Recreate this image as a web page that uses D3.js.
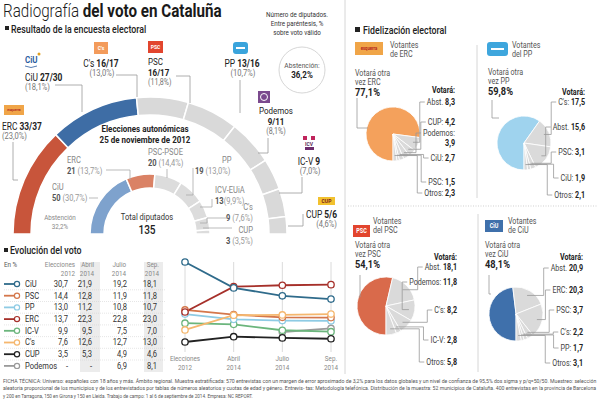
<!DOCTYPE html>
<html><head><meta charset="utf-8">
<script src="https://cdn.jsdelivr.net/npm/d3@7"></script>
<style>
body{margin:0;background:#fff}
svg{display:block}
text{font-family:'Roboto','Liberation Sans','Noto Sans',sans-serif}
</style>
</head><body>
<svg id="c" width="600" height="401"></svg>
<script>
// ---------- DATA ----------
const seatParties = ["ERC","CiU","C's","PSC","PP","Podemos","IC-V","CUP"];
const seatLow  = [33,27,16,16,13,9,9,5];
const seatHigh = [37,30,17,17,16,11,9,6];
const votePct  = ["23,0%","18,1%","13,0%","11,8%","10,7%","8,1%","7,0%","4,6%"];
const abstencion2014 = "36,2%";

const parties2012 = ["CiU","ERC","PSC-PSOE","PP","ICV-EUiA","C's","CUP"];
const seats2012   = [50,21,20,19,13,9,3];
const pct2012     = ["30,7%","13,7%","14,4%","13,0%","9,9%","7,6%","3,5%"];
const abstencion2012 = "32,2%";
const totalSeats = 135;

const evoPeriods = [["Elecciones","2012"],["Abril","2014"],["Julio","2014"],["Sep.","2014"]];
const evoParties = ["CiU","PSC","PP","ERC","IC-V","C's","CUP","Podemos"];
const evoCiU     = [30.7,21.9,19.2,18.1];
const evoPSC     = [14.4,12.8,11.9,11.8];
const evoPP      = [13.0,11.2,10.8,10.7];
const evoERC     = [13.7,22.3,22.8,23.0];
const evoICV     = [9.9,9.5,7.5,7.0];
const evoCs      = [7.6,12.6,12.7,13.0];
const evoCUP     = [3.5,5.3,4.9,4.6];
const evoPodemos = [null,null,6.9,8.1];

const fidERCLabels = ["Abst.","CUP:","Podemos:","CiU:","PSC:","Otros:"];
const fidERCValues = [8.3,4.2,3.9,2.7,1.5,2.3];
const fidERCKeep = 77.1;
const fidPPLabels = ["C's:","Abst.","PSC:","CiU:","Otros:"];
const fidPPValues = [17.5,15.6,3.1,1.9,2.1];
const fidPPKeep = 59.8;
const fidPSCLabels = ["Abst.","Podemos:","C's:","IC-V:","Otros:"];
const fidPSCValues = [18.1,11.8,8.2,2.8,5.8];
const fidPSCKeep = 54.1;
const fidCiULabels = ["Abst.","ERC:","PSC:","C's:","PP:","Otros:"];
const fidCiUValues = [20.9,20.3,3.7,2.2,1.7,3.1];
const fidCiUKeep = 48.1;

const footer = [
 "FICHA TÉCNICA: Universo: españoles con 18 años y más. Ámbito regional. Muestra estratificada: 570 entrevistas con un margen de error aproximado de 3,2% para los datos globales y un nivel de confianza de 95,5% dos sigma y p/q=50/50. Muestreo: selección",
 "aleatoria proporcional de los municipios y de los entrevistados por tablas de números aleatorios y cuotas de edad y género. Entrevis- tas: Metodología telefónica. Distribución de la muestra: 52 municipios de Cataluña. 400 entrevistas en la provincia de Barcelona",
 "y 200 en Tarragona, 150 en Girona y 150 en Lleida. Trabajo de campo: 1 al 6 de septiembre de 2014. Empresa: NC REPORT."
];

// ---------- HELPERS ----------
const SX = 0.84; // horizontal condensing of all text
const svg = d3.select("#c");
svg.append("rect").attr("width",600).attr("height",401).attr("fill","#fff");
const fmt = v => d3.format(".1f")(v).replace(".",",");
function txt(x,y,parts,o={}){
  const sx = o.sx||SX;
  const t = svg.append("text").attr("x",x/sx).attr("y",y)
    .attr("transform",`scale(${sx},1)`)
    .attr("font-size",o.size||9).attr("text-anchor",o.anchor||"start")
    .attr("fill",o.fill||"#222");
  if(typeof parts==="string") parts=[[parts]];
  parts.forEach(p=>{const s=t.append("tspan").text(p[0]);
    if(p[1]) s.attr("font-weight",p[1]); if(p[2]) s.attr("fill",p[2]);});
  t.sx = sx;
  return t;
}
function lead(pts,col="#999"){
  svg.append("path").attr("d",d3.line()(pts)).attr("fill","none")
    .attr("stroke",col).attr("stroke-width",0.8);
}

// ---------- TITLE ----------
txt(3,17,[["Radiografía ","300"],["del voto en Cataluña","bold"]],{size:19,fill:"#1a1a1a",sx:0.8});
svg.append("rect").attr("x",5).attr("y",26).attr("width",4).attr("height",4).attr("fill","#222");
txt(11,33,[["Resultado de la encuesta electoral","500"]],{size:10.5});
["Número de diputados.","Entre paréntesis, %","sobre voto válido"].forEach((s,i)=>
  txt(297,17+i*9,s,{size:7.5,anchor:"middle",fill:"#333"}));

// dividers
svg.append("line").attr("x1",345).attr("x2",345).attr("y1",0).attr("y2",374).attr("stroke","#ccc").attr("stroke-width",0.8);

// ---------- OUTER ARC (encuesta) ----------
const cx=150, cy=234;
const outerVals = seatLow.map((l,i)=>(l+seatHigh[i])/2);
const outerCol = ["#c8553b","#3e6da5","#d9d9d9","#d9d9d9","#d9d9d9","#d9d9d9","#d9d9d9","#d9d9d9"];
const gA = svg.append("g").attr("transform",`translate(${cx},${cy})`);
gA.selectAll("path.o").data(d3.pie().sort(null).startAngle(-Math.PI/2).endAngle(Math.PI/2)(outerVals))
  .join("path").attr("class","o").attr("d",d3.arc().innerRadius(119).outerRadius(137))
  .attr("fill",(d,i)=>outerCol[i]).attr("stroke","#fff").attr("stroke-width",1.5);

const innerCol = ["#7ea2cd","#da8265","#dcdcdc","#dcdcdc","#dcdcdc","#dcdcdc","#dcdcdc"];
gA.selectAll("path.i").data(d3.pie().sort(null).startAngle(-Math.PI/2).endAngle(Math.PI/2)(seats2012))
  .join("path").attr("class","i").attr("d",d3.arc().innerRadius(46).outerRadius(60))
  .attr("fill",(d,i)=>innerCol[i]).attr("stroke","#fff").attr("stroke-width",1.5);

// outer labels layout
const seatStr = i => seatLow[i]===seatHigh[i] ? `${seatLow[i]}` : `${seatLow[i]}/${seatHigh[i]}`;
const outerLay = {
 "ERC":{x:2,y:130,a:"start",two:false,lead:[[13,142],[13,180],[18,180]]},
 "CiU":{x:25,y:81,a:"start",two:false,lead:[[55,85],[82,85],[82,112]]},
 "C's":{x:101,y:67,a:"middle",two:false,lead:[[116,75],[137,75],[137,97]]},
 "PSC":{x:148,y:65,a:"start",two:true,lead:[[176,76],[190,76],[190,103]]},
 "PP":{x:242,y:67,a:"middle",two:false,lead:[[240,80],[240,113]]},
 "Podemos":{x:276,y:114,a:"middle",two:true,lead:[[268,138],[268,153],[258,153]]},
 "IC-V":{x:309,y:165,a:"middle",two:false,lead:[[302,177],[302,193],[279,193]]},
 "CUP":{x:337,y:218,a:"end",two:false,lead:[[303,214],[303,226],[288,226]]}
};
seatParties.forEach((p,i)=>{
  const L=outerLay[p];
  if(L.two){
    txt(L.x,L.y,[[p,"normal"]],{size:9.5,anchor:L.a});
    txt(L.x,L.y+11,[[seatStr(i),"bold"]],{size:9.5,anchor:L.a});
    txt(L.x,L.y+20.5,`(${votePct[i]})`,{size:8.5,anchor:L.a,fill:"#777"});
  } else {
    txt(L.x,L.y,[[p+" ","normal"],[seatStr(i),"bold"]],{size:10,anchor:L.a});
    txt(L.x+(L.a==="middle"?1:0),L.y+9.5,`(${votePct[i]})`,{size:9,anchor:L.a,fill:"#777"});
  }
  lead(L.lead);
});
// Abstención circle
svg.append("circle").attr("cx",302).attr("cy",70).attr("r",23).attr("fill","none").attr("stroke","#ccc").attr("stroke-width",0.8);
txt(302,68,"Abstención:",{size:8,anchor:"middle",fill:"#555"});
txt(302,78,[[abstencion2014,"bold"]],{size:9.5,anchor:"middle"});

// logos
function logo(x,y,w,h,fill,label,lc,fs,rx){
  svg.append("rect").attr("x",x).attr("y",y).attr("width",w).attr("height",h).attr("fill",fill).attr("rx",rx||0);
  if(label) txt(x+w/2,y+h/2+fs*0.35,[[label,"bold"]],{size:fs,anchor:"middle",fill:lc});
}
txt(25,63,[["CiU","bold"]],{size:9.5,fill:"#2b5c9e"});
svg.append("path").attr("d","M25,66 Q31,69 37,66").attr("fill","none").attr("stroke","#2b5c9e").attr("stroke-width",0.8);
svg.append("circle").attr("cx",39).attr("cy",54).attr("r",1.5).attr("fill","#e0a020");
logo(94,42,14,12,"#f39b5b","C's","#fff",6);
logo(148,41,15,12,"#e2452e","PSC","#fff",6);
logo(233,42,15,12,"#3aa4dc","","#fff",6,3);
svg.append("path").attr("d","M236,48 L245,48").attr("stroke","#fff").attr("stroke-width",2);
logo(258,91,12,12,"#7b4a8e","","#fff",6);
svg.append("circle").attr("cx",264).attr("cy",97).attr("r",3.5).attr("fill","none").attr("stroke","#fff").attr("stroke-width",1);
svg.append("rect").attr("x",303).attr("y",136).attr("width",4).attr("height",4).attr("fill","#c0245c");
svg.append("rect").attr("x",311).attr("y",136).attr("width",4).attr("height",4).attr("fill","#c0245c");
txt(309,146,[["ICV","bold"]],{size:6,anchor:"middle",fill:"#5a2a5a"});
svg.append("rect").attr("x",305).attr("y",147).attr("width",9).attr("height",3).attr("fill","#6d2d6d");
logo(318,197,17,8,"#f2c12e","CUP","#7a1a1a",6);
logo(4,105,20,10,"#f0a548","esquerra","#b3261e",4);

// inner labels
txt(145,132,[["Elecciones autonómicas","bold"]],{size:9.5,anchor:"middle"});
txt(145,143,[["25 de noviembre de 2012","bold"]],{size:9.5,anchor:"middle"});
txt(147,220,"Total diputados",{size:9,anchor:"middle",fill:"#333"});
txt(147,234,[[String(totalSeats),"500"]],{size:12,anchor:"middle",fill:"#222"});
txt(60,220,"Abstención",{size:7.5,anchor:"middle",fill:"#888"});
txt(60,229,abstencion2012,{size:7.5,anchor:"middle",fill:"#888"});
const innerLay = [
 {x:52,y:190,a:"start",lead:[[89,198],[98,198]]},
 {x:67,y:163,a:"start",lead:[[106,170],[130,170],[130,180]]},
 {x:148,y:155,a:"start",lead:[[167,169],[167,178]]},
 {x:222,y:163,a:"start",x2:195,lead:[[193,168],[193,195],[186,195]]},
 {x:215,y:193,a:"start",lead:[[212,199],[212,207],[200,207]],tight:true},
 {x:253,y:210,a:"end",lead:[[228,218],[207,218],[207,223],[200,223]]},
 {x:253,y:233,a:"end",lead:[[232,228],[203,228]]}
];
parties2012.forEach((p,i)=>{
  const L=innerLay[i];
  txt(L.x,L.y,p,{size:9,anchor:L.a,fill:"#888"});
  txt(L.x2||L.x,L.y+11,[[String(seats2012[i]),"bold","#555"],[(L.tight?"":" ")+"("+pct2012[i]+")","normal","#999"]],{size:9,anchor:L.a});
  lead(L.lead,"#aaa");
});

// ---------- EVOLUCIÓN ----------
svg.append("rect").attr("x",4).attr("y",248).attr("width",4).attr("height",4).attr("fill","#222");
txt(10,254,[["Evolución del voto","500"]],{size:10.5});
txt(4,267,"En %",{size:7.5,fill:"#555"});
const evoSeries = [evoCiU,evoPSC,evoPP,evoERC,evoICV,evoCs,evoCUP,evoPodemos];
const evoColors = ["#2f6b8b","#d4774b","#8ecbe4","#a6302a","#6bb57c","#f5b76e","#222222","#9a9a9a"];
const hdrR = [75,94,126,159];
const valR = [68,92,127,157];
svg.append("rect").attr("x",80).attr("y",262).attr("width",20).attr("height",110).attr("fill","#ececec");
svg.append("rect").attr("x",144).attr("y",262).attr("width",19).attr("height",110).attr("fill","#ececec");
evoPeriods.forEach((p,j)=>{
  txt(hdrR[j],267,p[0],{size:7.5,anchor:"end",fill:"#888"});
  txt(hdrR[j],276,p[1],{size:7.5,anchor:"end",fill:"#888"});
});
const rowY = i => 287 + i*11.7;
evoParties.forEach((p,i)=>{
  const y=rowY(i);
  svg.append("line").attr("x1",4).attr("x2",14).attr("y1",y-3).attr("y2",y-3).attr("stroke",evoColors[i]).attr("stroke-width",1.8);
  svg.append("circle").attr("cx",17).attr("cy",y-3).attr("r",2.6).attr("fill","#fff").attr("stroke",evoColors[i]).attr("stroke-width",1.2);
  txt(25,y,p,{size:9,fill:"#333"});
  evoSeries[i].forEach((v,j)=>txt(valR[j],y,v==null?"-":fmt(v),{size:9,anchor:"end",fill:"#333"}));
  if(i<evoParties.length-1) svg.append("line").attr("x1",4).attr("x2",165).attr("y1",y+2.8).attr("y2",y+2.8).attr("stroke","#ccc").attr("stroke-width",0.5).attr("stroke-dasharray","1,1");
});
// line chart
const xs = d3.scalePoint().domain(d3.range(4)).range([185,331]);
const ys = d3.scaleLinear().domain([3.5,30.7]).range([342,262]);
xs.domain().forEach(j=>{
  svg.append("line").attr("x1",xs(j)).attr("x2",xs(j)).attr("y1",262).attr("y2",352).attr("stroke","#d0d0d0").attr("stroke-width",0.8);
  txt(xs(j),361,evoPeriods[j][0],{size:7.5,anchor:"middle",fill:"#888"});
  txt(xs(j),370,evoPeriods[j][1],{size:7.5,anchor:"middle",fill:"#888"});
});
const ln = d3.line().defined(d=>d.v!=null).x(d=>xs(d.j)).y(d=>ys(d.v));
const order=[7,4,2,1,5,6,3,0];
order.forEach(i=>{
  const pts = evoSeries[i].map((v,j)=>({v,j}));
  svg.append("path").attr("d",ln(pts)).attr("fill","none").attr("stroke",evoColors[i]).attr("stroke-width",1.8);
});
order.forEach(i=>{
  evoSeries[i].forEach((v,j)=>{ if(v==null) return;
    svg.append("circle").attr("cx",xs(j)).attr("cy",ys(v)).attr("r",3.2).attr("fill","#fff").attr("stroke",evoColors[i]).attr("stroke-width",1.3);});
});

// ---------- FIDELIZACIÓN ----------
svg.append("rect").attr("x",355).attr("y",27).attr("width",5).attr("height",5).attr("fill","#222");
txt(363,34,[["Fidelización electoral","500"]],{size:10.5});
svg.append("line").attr("x1",477).attr("x2",477).attr("y1",45).attr("y2",198).attr("stroke","#ccc").attr("stroke-width",0.8);
svg.append("line").attr("x1",478).attr("x2",478).attr("y1",214).attr("y2",372).attr("stroke","#ccc").attr("stroke-width",0.8);
svg.append("line").attr("x1",348).attr("x2",598).attr("y1",206).attr("y2",206).attr("stroke","#bbb").attr("stroke-width",0.7).attr("stroke-dasharray","1,1.5");

const panels = [
 {name:"ERC",labels:fidERCLabels,values:fidERCValues,keep:fidERCKeep,color:"#f4a15c",cx:393,cy:134,r:27,colR:455,vY:93,
  ys:[105,125,[136,146],161,185,196], hx:390,hy:48,tx:355,ty:76,ml:[[357,98],[357,128],[368,128]],
  votantes:"de ERC"},
 {name:"PP",labels:fidPPLabels,values:fidPPValues,keep:fidPPKeep,color:"#9fd3ee",cx:524,cy:143,r:27,colR:585,vY:95,
  ys:[105,130,155,181,198], hx:512,hy:48,tx:488,ty:75,ml:[[492,100],[492,118],[499,118]],
  votantes:"del PP"},
 {name:"PSC",labels:fidPSCLabels,values:fidPSCValues,keep:fidPSCKeep,color:"#d96a4b",cx:386,cy:306,r:29,colR:457,vY:260,
  ys:[270,285,313,343,365], hx:373,hy:224,tx:355,ty:248,ml:[[360,275],[360,297],[359,297]],
  votantes:"del PSC"},
 {name:"CiU",labels:fidCiULabels,values:fidCiUValues,keep:fidCiUKeep,color:"#3f70ab",cx:516,cy:314,r:27,colR:583,vY:260,
  ys:[271,293,313,335,351,366], hx:508,hy:224,tx:485,ty:248,ml:[[489,275],[489,294],[491,294]],
  votantes:"de CiU"}
];
panels.forEach(p=>{
  const g = svg.append("g").attr("transform",`translate(${p.cx},${p.cy})`);
  const arcs = d3.pie().sort(null).startAngle(-Math.PI).endAngle(Math.PI)([p.keep,...p.values]);
  const arc = d3.arc().innerRadius(0).outerRadius(p.r);
  g.selectAll("path").data(arcs).join("path").attr("d",arc)
    .attr("fill",(d,i)=>i?"#dadada":p.color).attr("stroke","#fff").attr("stroke-width",0.8);
  txt(p.hx,p.hy,"Votantes",{size:8.5,fill:"#555"});
  txt(p.hx,p.hy+9,p.votantes,{size:8.5,fill:"#555"});
  txt(p.tx,p.ty,"Votará otra",{size:8.5,fill:"#555"});
  txt(p.tx,p.ty+9,"vez "+p.name,{size:8.5,fill:"#555"});
  txt(p.tx,p.ty+20,[[fmt(p.keep)+"%","bold"]],{size:11,fill:"#222"});
  lead(p.ml,"#999");
  txt(p.colR,p.vY,[["Votará:","bold"]],{size:8.5,anchor:"end"});
  p.labels.forEach((lab,i)=>{
    const a = arcs[i+1]; const mid=(a.startAngle+a.endAngle)/2;
    const ax = p.cx + Math.sin(mid)*p.r*0.8, ay = p.cy - Math.cos(mid)*p.r*0.8;
    let y = p.ys[i], t;
    if(Array.isArray(y)){
      t = txt(p.colR,y[0],lab,{size:8.5,anchor:"end",fill:"#444"});
      txt(p.colR,y[1],[[fmt(p.values[i]),"bold"]],{size:8.5,anchor:"end"});
      y=y[0];
    } else {
      t = txt(p.colR,y,[[lab+" ","normal","#444"],[fmt(p.values[i]),"bold","#222"]],{size:8.5,anchor:"end"});
    }
    const w = t.node().getComputedTextLength()*t.sx;
    const sx = p.colR - w - 2, col = sx - 5;
    lead([[sx,y-3],[col,y-3],[col,ay],[ax,ay]],"#999");
  });
});
// panel logos
logo(355,42,28,13,"#f0a548","esquerra","#b3261e",5);
logo(487,42,21,14,"#3ea6dd","","#fff",6,3);
svg.append("path").attr("d","M491,49 L504,49").attr("stroke","#fff").attr("stroke-width",2);
logo(353,225,17,12,"#e2452e","PSC","#fff",6.5);
logo(485,220,18,12,"#3f70ab","CiU","#fff",6.5);

// ---------- FOOTER ----------
const footW = [594,594,250];
footer.forEach((s,i)=>{
  const t = svg.append("text").attr("x",3).attr("y",383+i*7.5).attr("font-size",5.8).attr("fill","#555").text(s);
  const len = t.node().getComputedTextLength();
  const k = footW[i]/len;
  t.attr("x",3/k).attr("transform",`scale(${k},1)`);
});
</script>
</body></html>
